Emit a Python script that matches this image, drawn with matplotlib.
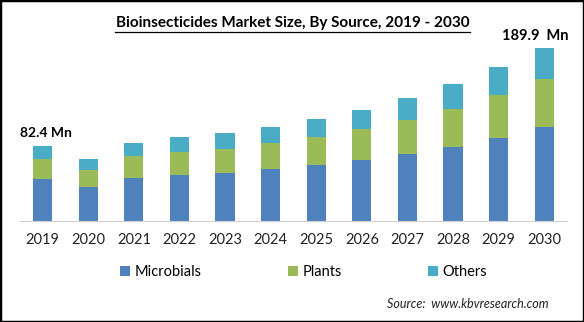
import matplotlib
matplotlib.use("Agg")
import matplotlib.pyplot as plt
from matplotlib.patches import Rectangle
import numpy as np

plt.rcParams['font.family'] = ['Lato', 'DejaVu Sans']

# data (Mn)
years = ['2019', '2020', '2021', '2022', '2023', '2024',
         '2025', '2026', '2027', '2028', '2029', '2030']
microbials = [46.1, 37.4, 47.2, 50.5, 52.7, 57.1, 61.5, 67.0, 73.6, 81.3, 91.0, 102.6]
plants = [22.0, 18.7, 24.2, 25.3, 26.4, 28.6, 30.8, 34.1, 37.4, 41.8, 47.2, 53.5]
others = [14.3, 12.1, 14.3, 16.5, 17.6, 17.6, 19.8, 20.9, 24.2, 27.5, 30.8, 33.8]

fig = plt.figure(figsize=(5.84, 3.22), dpi=100)
ax = fig.add_axes([0.034, 0.314, 0.937, 0.566])

x = np.arange(len(years))
w = 0.42
ax.bar(x, microbials, w, color='#4F81BD', label='Microbials')
ax.bar(x, plants, w, bottom=microbials, color='#9BBB59', label='Plants')
bot = np.array(microbials) + np.array(plants)
ax.bar(x, others, w, bottom=bot, color='#4BACC6', label='Others')

ax.set_xlim(-0.5, 11.5)
ax.set_ylim(0, 200)
ax.set_xticks(x)
ax.set_xticklabels(years, fontsize=10.5, color='#222222')
ax.tick_params(axis='x', length=0, pad=9)
ax.set_yticks([])
for s in ['top', 'right', 'left']:
    ax.spines[s].set_visible(False)
ax.spines['bottom'].set_color('#d0d0d0')

# end labels
tot = bot + np.array(others)
ax.text(x[0] - 0.5, tot[0] + 7, '82.4 Mn', fontsize=10, fontweight='bold',
        ha='left', va='bottom')
ax.text(x[-1] - 0.2, tot[-1] + 5, '189.9  Mn', fontsize=10.5, fontweight='bold',
        ha='center', va='bottom')

fig.text(0.501, 0.93, 'Bioinsecticides Market Size, By Source, 2019 - 2030',
         ha='center', va='center', fontsize=11, fontweight='bold')
# underline for title
fig.add_artist(plt.Line2D([0.197, 0.805], [0.902, 0.902], color='black', lw=0.9))

leg = fig.legend(loc='center', bbox_to_anchor=(0.52, 0.155), ncol=3, frameon=False,
                 fontsize=10.5, handlelength=0.7, handleheight=0.7, handletextpad=0.3,
                 columnspacing=5.9)

fig.text(0.94, 0.055, 'Source:  www.kbvresearch.com', ha='right', va='center',
         fontsize=9, style='italic', color='#222222')

fig.add_artist(Rectangle((0, 0), 1, 1, transform=fig.transFigure, fill=False,
                         edgecolor='black', lw=2.5))

fig.savefig('out.png', dpi=100)
